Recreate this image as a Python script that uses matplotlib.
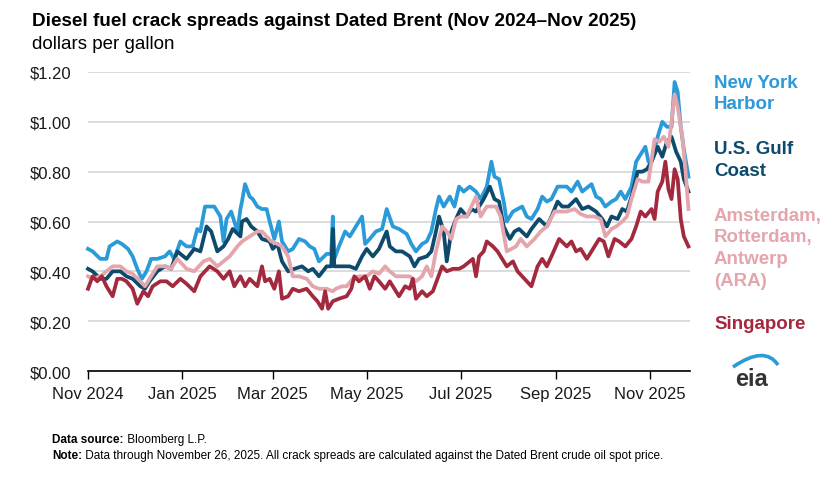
import matplotlib
matplotlib.use('Agg')
import matplotlib.pyplot as plt
import matplotlib.dates as mdates
import pandas as pd
from matplotlib.path import Path
from matplotlib.patches import PathPatch

# days counted from 1 Nov 2024, values in dollars per gallon
start = pd.Timestamp('2024-11-01')

nyh_days = [0, 3, 8, 12, 14, 19, 22, 26, 29, 32, 35, 38, 41, 45, 50, 53, 56, 60, 64, 68,
            71, 73, 76, 79, 82, 86, 88, 90, 93, 97, 99, 100, 102, 105, 107, 110, 113, 116, 118, 121,
            124, 126, 130, 133, 137, 141, 144, 147, 150, 155, 158, 159, 160, 163, 167, 170, 174, 178, 180, 183,
            187, 191, 194, 198, 202, 207, 210, 213, 217, 220, 223, 226, 228, 231, 235, 238, 241, 244, 248, 252,
            255, 259, 262, 264, 267, 270, 272, 276, 279, 282, 285, 288, 292, 295, 298, 301, 305, 308, 311, 314,
            318, 321, 327, 330, 333, 336, 340, 343, 346, 349, 353, 356, 360, 362, 364, 366, 370, 373, 376, 379,
            381, 383, 385, 387, 390]
nyh_vals = [.49, .48, .45, .45, .50, .52, .51, .49, .46, .41, .37, .40, .45, .45, .46, .48, .45, .52, .50, .50,
            .57, .56, .66, .66, .66, .62, .52, .61, .64, .56, .65, .68, .75, .70, .69, .66, .65, .65, .60, .53,
            .60, .52, .48, .49, .53, .52, .50, .49, .44, .47, .47, .62, .45, .50, .56, .54, .58, .62, .51, .53,
            .56, .57, .65, .58, .57, .55, .51, .48, .51, .52, .56, .65, .70, .66, .70, .66, .74, .72, .74, .72,
            .69, .74, .84, .78, .77, .68, .60, .64, .65, .66, .62, .61, .65, .70, .68, .69, .74, .74, .74, .72,
            .76, .72, .75, .70, .69, .66, .68, .69, .72, .69, .74, .84, .88, .90, .84, .84, .94, 1.00, .98, .98,
            1.16, 1.12, .98, .89, .78]

usgc_days = [0, 3, 8, 12, 16, 21, 25, 29, 34, 37, 40, 45, 50, 54, 58, 64, 69, 73, 77, 80,
             84, 88, 91, 94, 99, 100, 103, 106, 110, 113, 118, 120, 123, 126, 130, 134, 139, 143, 146, 150,
             155, 158, 159, 160, 165, 170, 174, 178, 181, 185, 189, 194, 196, 200, 204, 209, 212, 215, 220, 223,
             226, 228, 231, 233, 236, 239, 242, 246, 249, 252, 254, 257, 261, 264, 267, 270, 274, 277, 280, 285,
             288, 293, 298, 301, 305, 308, 312, 317, 321, 325, 330, 334, 337, 340, 344, 347, 350, 353, 357, 360,
             363, 366, 370, 373, 376, 379, 382, 385, 387, 390]
usgc_vals = [.41, .40, .37, .37, .40, .40, .38, .37, .34, .33, .36, .40, .42, .41, .48, .45, .49, .48, .58, .56,
             .48, .50, .53, .57, .54, .60, .61, .58, .56, .53, .52, .49, .51, .44, .40, .41, .42, .40, .41, .38,
             .42, .42, .57, .42, .42, .42, .41, .46, .49, .46, .49, .56, .50, .48, .48, .46, .42, .45, .46, .48,
             .56, .62, .56, .44, .56, .61, .65, .62, .65, .64, .66, .69, .74, .69, .68, .58, .53, .56, .57, .54,
             .57, .61, .58, .62, .68, .66, .66, .69, .65, .66, .64, .61, .58, .62, .61, .65, .64, .70, .80, .80,
             .81, .84, .90, .86, .92, .94, .88, .84, .77, .72]

ara_days = [0, 3, 8, 12, 16, 21, 25, 29, 34, 37, 40, 45, 50, 54, 58, 64, 69, 75, 79, 84,
            88, 92, 97, 100, 105, 110, 113, 116, 119, 123, 126, 130, 133, 137, 142, 146, 150, 155, 159, 161,
            165, 168, 172, 176, 181, 185, 189, 193, 196, 200, 204, 209, 213, 217, 220, 223, 226, 230, 233, 236,
            239, 242, 246, 249, 252, 255, 259, 262, 265, 268, 272, 275, 278, 281, 285, 290, 294, 298, 303, 307,
            311, 316, 320, 324, 329, 333, 336, 340, 343, 347, 350, 353, 357, 360, 364, 368, 371, 374, 377, 379,
            381, 383, 386, 388, 390]
ara_vals = [.38, .37, .38, .40, .42, .42, .40, .39, .36, .34, .37, .42, .42, .41, .45, .41, .40, .44, .45, .42,
            .44, .46, .50, .52, .54, .56, .56, .54, .52, .51, .50, .46, .38, .38, .37, .34, .33, .33, .32, .33,
            .34, .34, .37, .38, .38, .40, .39, .42, .40, .38, .38, .38, .36, .38, .42, .38, .48, .58, .56, .53,
            .61, .62, .62, .66, .70, .62, .66, .66, .66, .62, .48, .49, .50, .53, .50, .53, .56, .58, .64, .64,
            .64, .65, .63, .62, .62, .61, .54, .57, .58, .60, .62, .69, .77, .76, .76, .93, .92, .94, .90, 1.00,
            1.11, 1.06, .94, .81, .65]

sing_days = [0, 3, 6, 9, 12, 16, 19, 22, 25, 29, 32, 36, 39, 42, 47, 51, 55, 60, 64, 69,
             73, 76, 79, 84, 88, 92, 95, 99, 102, 105, 110, 113, 115, 118, 121, 124, 126, 130, 133, 137,
             142, 146, 149, 152, 154, 156, 159, 163, 168, 171, 173, 176, 180, 183, 186, 189, 193, 196, 199, 202,
             206, 209, 211, 213, 217, 220, 224, 227, 230, 233, 237, 241, 244, 248, 250, 252, 254, 257, 259, 263,
             266, 269, 272, 276, 279, 282, 285, 288, 292, 295, 298, 301, 306, 311, 314, 317, 320, 324, 329, 332,
             335, 338, 342, 345, 349, 353, 356, 359, 362, 366, 368, 370, 373, 375, 377, 379, 381, 383, 385, 387,
             390]
sing_vals = [.33, .38, .36, .38, .34, .30, .37, .37, .36, .33, .27, .32, .30, .34, .36, .36, .34, .37, .35, .32,
             .38, .40, .42, .40, .37, .40, .34, .38, .34, .37, .34, .42, .36, .37, .33, .40, .29, .30, .33, .32,
             .33, .30, .28, .25, .32, .25, .28, .29, .30, .33, .38, .36, .38, .33, .38, .36, .33, .36, .33, .30,
             .34, .33, .37, .29, .32, .30, .32, .37, .42, .40, .41, .41, .42, .44, .45, .38, .46, .48, .52, .50,
             .48, .45, .42, .44, .40, .38, .36, .34, .42, .45, .42, .46, .53, .50, .52, .48, .49, .45, .50, .53,
             .52, .46, .53, .52, .50, .53, .58, .64, .62, .65, .61, .72, .76, .84, .73, .69, .81, .77, .61, .54,
             .50]

series = [
    (nyh_days, nyh_vals, '#2b9ad8'),
    (usgc_days, usgc_vals, '#0d4a6c'),
    (ara_days, ara_vals, '#e4a5ad'),
    (sing_days, sing_vals, '#a3293f'),
]

y_ticks = [0, 0.2, 0.4, 0.6, 0.8, 1.0, 1.2]

plt.rcParams['font.family'] = ['Liberation Sans', 'DejaVu Sans']

W, H = 840, 481
fig = plt.figure(figsize=(W / 100, H / 100), dpi=100)
ax = fig.add_axes([88 / W, 1 - 372 / H, 602 / W, 299 / H])

for days, vals, col in series:
    dates = start + pd.to_timedelta(days, unit='D')
    ax.plot(dates, vals, color=col, lw=2.7, solid_joinstyle='round', clip_on=False)

ax.set_xlim(start, start + pd.Timedelta(days=391))
ax.set_ylim(0, 1.2)
ax.set_yticks(y_ticks)
ax.set_yticklabels(['$%.2f' % v for v in y_ticks])
ax.xaxis.set_major_locator(mdates.MonthLocator(bymonth=[1, 3, 5, 7, 9, 11]))
ax.xaxis.set_major_formatter(mdates.DateFormatter('%b %Y'))

ax.grid(axis='y', color='#d9d9d9', lw=1.3)
ax.set_axisbelow(True)
for s in ['top', 'right', 'left']:
    ax.spines[s].set_visible(False)
ax.spines['bottom'].set_color('black')
ax.spines['bottom'].set_linewidth(1.2)
ax.tick_params(axis='y', length=0, pad=12, labelsize=12, labelcolor='#1a1a1a')
ax.tick_params(axis='x', length=6, width=1, color='black', pad=5, labelsize=12, labelcolor='#1a1a1a')

# title
fig.text(32 / W, 1 - 21 / H, 'Diesel fuel crack spreads against Dated Brent (Nov 2024\u2013Nov 2025)',
         fontsize=13.6, fontweight='bold', va='center', ha='left')
fig.text(32 / W, 1 - 45 / H, 'dollars per gallon', fontsize=13.5, va='center', ha='left')

# labels on the right
labels = [
    (['New York', 'Harbor'], 83, '#2b9ad8'),
    (['U.S. Gulf', 'Coast'], 150, '#0d4a6c'),
    (['Amsterdam,', 'Rotterdam,', 'Antwerp', '(ARA)'], 216, '#e4a5ad'),
    (['Singapore'], 325, '#a3293f'),
]
for lines, y0, col in labels:
    for i, line in enumerate(lines):
        fig.text(714 / W, 1 - (y0 + i * 22) / H, line, color=col, fontsize=13.5,
                 fontweight='bold', va='center', ha='left')

# eia logo
fig.text(752 / W, 1 - 380 / H, 'eia', fontsize=17, fontweight='bold', color='#333333',
         ha='center', va='center')
pts = [(733 / W, 1 - 368 / H), (765 / W, 1 - 346 / H), (778 / W, 1 - 366 / H)]
arc = PathPatch(Path(pts, [Path.MOVETO, Path.CURVE3, Path.CURVE3]), transform=fig.transFigure,
                fill=False, edgecolor='#2b9ad8', lw=2.6)
fig.patches.append(arc)

# footer
foot = ['Liberation Sans Narrow', 'Liberation Sans', 'DejaVu Sans']
renderer = fig.canvas.get_renderer()
for y, bold, rest in [(440, 'Data source:', ' Bloomberg L.P.'),
                      (456, 'Note:', ' Data through November 26, 2025. All crack spreads are calculated '
                                     'against the Dated Brent crude oil spot price.')]:
    t = fig.text(52 / W, 1 - y / H, bold, fontsize=8.5, fontweight='bold', family=foot, va='center')
    bb = t.get_window_extent(renderer)
    fig.text((52 + bb.width) / W, 1 - y / H, rest, fontsize=8.5, family=foot, va='center')

fig.savefig('out.png', dpi=100)
